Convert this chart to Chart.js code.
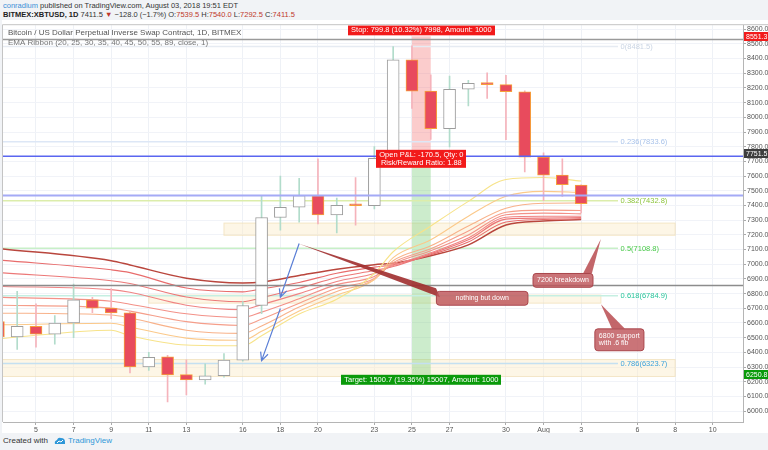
<!DOCTYPE html>
<html>
<head>
<meta charset="utf-8">
<script src="https://cdn.jsdelivr.net/npm/chart.js@4.4.0/dist/chart.umd.min.js"></script>
<style>
  html, body { margin: 0; padding: 0; }
  body { width: 768px; height: 450px; background: #f1f3f6; position: relative; overflow: hidden;
         font-family: "Liberation Sans", Arial, sans-serif; }
  #head { position: absolute; left: 3px; top: 1px; font-size: 7.5px; line-height: 9px; color: #333; white-space: nowrap; }
  #head .user { color: #3b8fd6; }
  #head b { color: #222; }
  #head .dn { color: #c0392b; }
  #wrap { position: absolute; left: 2px; top: 20px; width: 766px; height: 413px; background: #fff; }
  #foot { position: absolute; left: 3px; top: 436px; font-size: 8px; line-height: 10px; color: #333; white-space: nowrap; }
  #foot .tv { color: #2f97d8; }
  #foot svg { vertical-align: -2px; margin: 0 2px 0 6px; }
</style>
</head>
<body>
<div id="head">
  <div><span class="user">conradium</span> published on TradingView.com, August 03, 2018 19:51 EDT</div>
  <div><b>BITMEX:XBTUSD, 1D</b> 7411.5 <span class="dn">▼</span> −128.0 (−1.7%) O:<span class="dn">7539.5</span> H:<span class="dn">7540.0</span> L:<span class="dn">7292.5</span> C:<span class="dn">7411.5</span></div>
</div>
<div id="wrap"><canvas id="chart"></canvas></div>
<div id="foot">Created with<svg width="12" height="9" viewBox="0 0 12 9"><path d="M1 8 Q0 5 3 4 Q4 1 7 2 Q11 2 11 6 L11 8 Z" fill="#2f97d8"/><path d="M3 7 L5 5 L7 6 L9 4" stroke="#fff" stroke-width="1" fill="none"/></svg><span class="tv">TradingView</span></div>
<script>
// daily candles, day numbers counted from July (Aug 1 = 32)
const days   = [3, 4, 5, 6, 7, 8, 9, 10, 11, 12, 13, 14, 15, 16, 17, 18, 19, 20, 21, 22, 23, 24, 25, 26, 27, 28, 29, 30, 31, 32, 33, 34];
const openP  = [6610, 6505, 6578, 6524, 6600, 6757, 6701, 6669, 6301, 6369, 6248, 6212, 6241, 6347, 6719, 7318, 7388, 7467, 7336, 7401, 7398, 7720, 8391, 8178, 7922, 8191, 8232, 8222, 8174, 7729, 7606, 7539.5];
const highP  = [6680, 6815, 6730, 6650, 6865, 6775, 6835, 6680, 6400, 6380, 6350, 6322, 6391, 6745, 7467, 7600, 7585, 7718, 7451, 7590, 7800, 8481, 8487, 8290, 8281, 8252, 8302, 8286, 8180, 7758, 7718, 7540];
const lowP   = [6480, 6420, 6435, 6455, 6500, 6670, 6630, 6260, 6277, 6063, 6110, 6183, 6232, 6340, 6663, 7231, 7287, 7275, 7213, 7265, 7377, 7700, 8060, 7850, 7799, 8077, 8129, 7848, 7628, 7433, 7462, 7350];
const closeP = [6505, 6578, 6524, 6600, 6757, 6701, 6669, 6301, 6367, 6246, 6212, 6241, 6347, 6719, 7318, 7388, 7467, 7336, 7401, 7398, 7720, 8391, 8178, 7922, 8191, 8232, 8222, 8174, 7729, 7606, 7541, 7411.5];

const tickDays   = [5, 7, 9, 11, 13, 16, 18, 20, 23, 25, 27, 30, 32, 34, 37, 39, 41];
const tickLabels = ["5", "7", "9", "11", "13", "16", "18", "20", "23", "25", "27", "30", "Aug", "3", "6", "8", "10"];
const priceTicks = [6000, 6100, 6200, 6300, 6400, 6500, 6600, 6700, 6800, 6900, 7000, 7100, 7200, 7300, 7400, 7500, 7600, 7700, 7800, 7900, 8000, 8100, 8200, 8300, 8400, 8500, 8600];

// EMA ribbon
const emaDays = [3, 9, 10, 13, 16, 17, 19, 21, 23, 24, 26, 28, 30, 32, 34];
const ema20 = [6492, 6551, 6513, 6450, 6445, 6513, 6661, 6762, 6937, 7085, 7260, 7428, 7577, 7590, 7566];
const ema25 = [6587, 6598, 6573, 6497, 6482, 6543, 6681, 6789, 6896, 7045, 7166, 7327, 7462, 7496, 7489];
const ema30 = [6667, 6654, 6634, 6551, 6529, 6580, 6708, 6815, 6896, 7024, 7125, 7260, 7381, 7415, 7417];
const ema35 = [6721, 6701, 6681, 6609, 6583, 6627, 6735, 6836, 6903, 7011, 7105, 7226, 7354, 7368, 7366];
const ema40 = [6775, 6748, 6728, 6663, 6637, 6674, 6765, 6861, 6917, 7001, 7092, 7199, 7337, 7348, 7343];
const ema45 = [6849, 6827, 6809, 6721, 6691, 6725, 6800, 6883, 6937, 6991, 7078, 7179, 7320, 7327, 7327];
const ema50 = [6943, 6888, 6869, 6777, 6745, 6772, 6836, 6910, 6957, 6984, 7071, 7166, 7307, 7314, 7317];
const ema55 = [7029, 6962, 6943, 6838, 6812, 6832, 6876, 6939, 6980, 6997, 7065, 7152, 7287, 7304, 7310];
const ema89 = [7107, 7024, 6995, 6905, 6873, 6879, 6923, 6966, 6997, 7007, 7058, 7132, 7267, 7294, 7304];

const fibLevels = ["0", "0.236", "0.382", "0.5", "0.618", "0.786"];
const fibPrices = [8481.5, 7833.6, 7432.8, 7108.8, 6784.9, 6323.7];

const entryPrice = 7751.5;
const stopPrice = 8551.3;
const targetPrice = 6250.8;

const emaSeries = [ema20, ema25, ema30, ema35, ema40, ema45, ema50, ema55, ema89];
const emaColors = ["#f7e38a", "#fbc98a", "#f8b28a", "#f59e8a", "#f39188", "#f08484", "#ec7878", "#e86c6c", "#b9463d"];
const fibLine = ["#e6ebf2", "#dde7f6", "#dcedab", "#c8efc8", "#c6efe2", "#c4e0f1"];
const fibText = ["#c9d4e3", "#a9c3ea", "#8dc43c", "#48c948", "#27c49a", "#3ca2dc"];

const up = closeP.map((c, i) => c >= openP[i]);

const FONT = '"Liberation Sans", Arial, sans-serif';

function roundRect(ctx, x, y, w, h, r) {
  ctx.beginPath();
  ctx.moveTo(x + r, y);
  ctx.arcTo(x + w, y, x + w, y + h, r);
  ctx.arcTo(x + w, y + h, x, y + h, r);
  ctx.arcTo(x, y + h, x, y, r);
  ctx.arcTo(x, y, x + w, y, r);
  ctx.closePath();
}

function arrow(ctx, x1, y1, x2, y2) {
  const a = Math.atan2(y2 - y1, x2 - x1);
  ctx.beginPath();
  ctx.moveTo(x1, y1); ctx.lineTo(x2, y2);
  ctx.moveTo(x2 - 9 * Math.cos(a - 0.45), y2 - 9 * Math.sin(a - 0.45));
  ctx.lineTo(x2, y2);
  ctx.lineTo(x2 - 9 * Math.cos(a + 0.45), y2 - 9 * Math.sin(a + 0.45));
  ctx.stroke();
}

const drawings = {
  id: "drawings",
  beforeDatasetsDraw(chart) {
    const ctx = chart.ctx, a = chart.chartArea;
    const X = v => chart.scales.x.getPixelForValue(v);
    const Y = v => chart.scales.y.getPixelForValue(v);
    ctx.save();
    ctx.beginPath(); ctx.rect(a.left, a.top, a.right - a.left, a.bottom - a.top); ctx.clip();

    // support / resistance boxes
    [[15, 39, 7280, 7197], [11, 35.05, 6790, 6735], [2, 39, 6351, 6236]].forEach(z => {
      const x1 = X(z[0]), x2 = X(z[1]), y1 = Y(z[2]), y2 = Y(z[3]);
      ctx.fillStyle = "rgba(250,236,200,0.45)";
      ctx.fillRect(x1, y1, x2 - x1, y2 - y1);
      ctx.strokeStyle = "rgba(240,222,180,0.7)";
      ctx.lineWidth = 1;
      ctx.strokeRect(x1, y1, x2 - x1, y2 - y1);
    });

    // short position tool
    const px1 = X(25), px2 = X(26);
    ctx.fillStyle = "rgba(245,120,120,0.38)";
    ctx.fillRect(px1, Y(stopPrice), px2 - px1, Y(entryPrice) - Y(stopPrice));
    ctx.fillStyle = "rgba(110,200,110,0.35)";
    ctx.fillRect(px1, Y(entryPrice), px2 - px1, Y(targetPrice) - Y(entryPrice));

    // fib retracement
    ctx.font = "7.5px " + FONT;
    ctx.textBaseline = "middle";
    ctx.textAlign = "left";
    fibPrices.forEach((p, i) => {
      const y = Y(p);
      ctx.strokeStyle = fibLine[i];
      ctx.lineWidth = 1.5;
      ctx.beginPath(); ctx.moveTo(a.left, y); ctx.lineTo(X(35.96), y); ctx.stroke();
      ctx.fillStyle = fibText[i];
      ctx.fillText(fibLevels[i] + "(" + p.toFixed(1) + ")", X(36.1), y + 0.5);
    });
    ctx.restore();
  },
  afterDatasetsDraw(chart) {
    const ctx = chart.ctx, a = chart.chartArea;
    const X = v => chart.scales.x.getPixelForValue(v);
    const Y = v => chart.scales.y.getPixelForValue(v);
    ctx.save();
    ctx.beginPath(); ctx.rect(a.left, a.top, a.right - a.left, a.bottom - a.top); ctx.clip();

    // horizontal lines
    [[8530, "#9a9a9a", 1.5], [6855, "#8c8c8c", 1.5], [7735, "#5a66f0", 1.5], [7467, "#a4aaf6", 2]].forEach(h => {
      const y = Y(h[0]);
      ctx.strokeStyle = h[1]; ctx.lineWidth = h[2];
      ctx.beginPath(); ctx.moveTo(a.left, y); ctx.lineTo(a.right, y); ctx.stroke();
    });

    // blue arrows
    ctx.strokeStyle = "#5b7fd6"; ctx.lineWidth = 1.2;
    arrow(ctx, X(19.0), Y(7141), X(18.0), Y(6775));
    arrow(ctx, X(18.0), Y(6699), X(17.0), Y(6344));

    // callouts
    function callout(tip, b1, b2, box, lines, wedge, align) {
      ctx.fillStyle = wedge;
      ctx.beginPath();
      ctx.moveTo(X(tip[0]), Y(tip[1]));
      ctx.lineTo(X(b1[0]), Y(b1[1]));
      ctx.lineTo(X(b2[0]), Y(b2[1]));
      ctx.closePath(); ctx.fill();
      const x1 = X(box[0]), x2 = X(box[1]), y1 = Y(box[2]), y2 = Y(box[3]);
      roundRect(ctx, x1, y1, x2 - x1, y2 - y1, 3);
      ctx.fillStyle = "rgba(190,85,90,0.82)"; ctx.fill();
      ctx.strokeStyle = "#a9454b"; ctx.lineWidth = 1; ctx.stroke();
      ctx.fillStyle = "#fff";
      ctx.font = "7px " + FONT;
      ctx.textBaseline = "middle";
      ctx.textAlign = align;
      const n = lines.length;
      lines.forEach((t, i) => {
        const ty = (y1 + y2) / 2 + (i - (n - 1) / 2) * 7.5;
        ctx.fillText(t, align === "center" ? (x1 + x2) / 2 : x1 + 4, ty);
      });
    }
    callout([18.99, 7139], [26.28, 6836], [26.49, 6775], [26.3, 31.17, 6815, 6721], ["nothing but down"], "rgba(160,45,45,0.9)", "center");
    callout([35.05, 7172], [34.1, 6937], [34.57, 6937], [31.44, 34.63, 6937, 6843], ["7200 breakdown"], "rgba(185,75,80,0.85)", "center");
    callout([35.05, 6728], [35.64, 6560], [36.33, 6560], [34.73, 37.34, 6560, 6411], ["6800 support", "with .6 fib"], "rgba(185,75,80,0.85)", "left");

    // position tool labels
    const cx = X(25.5);
    ctx.font = "7.5px " + FONT;
    ctx.textAlign = "center"; ctx.textBaseline = "middle";
    function tag(lines, top, bg) {
      const w = Math.max(...lines.map(t => ctx.measureText(t).width)) + 6;
      const h = lines.length * 8 + 2;
      ctx.fillStyle = bg;
      ctx.fillRect(Math.round(cx - w / 2), top, Math.round(w), h);
      ctx.fillStyle = "#fff";
      lines.forEach((t, i) => ctx.fillText(t, cx, top + 5 + i * 8));
    }
    tag(["Stop: 799.8 (10.32%) 7998, Amount: 1000"], Y(stopPrice) - 11, "#f21a1a");
    tag(["Open P&L: -170.5, Qty: 0", "Risk/Reward Ratio: 1.88"], Y(entryPrice) - 4, "#f21a1a");
    tag(["Target: 1500.7 (19.36%) 15007, Amount: 1000"], Y(targetPrice) + 0.5, "#0a9a0a");

    // legend
    ctx.textAlign = "left";
    ctx.font = "8px " + FONT;
    ctx.fillStyle = "#555";
    ctx.fillText("Bitcoin / US Dollar Perpetual Inverse Swap Contract, 1D, BITMEX", a.left + 5, a.top + 8);
    ctx.fillStyle = "#777";
    ctx.fillText("EMA Ribbon (20, 25, 30, 35, 40, 45, 50, 55, 89, close, 1)", a.left + 5, a.top + 17.5);
    ctx.restore();

    // frame
    ctx.save();
    ctx.strokeStyle = "#c4c4c4"; ctx.lineWidth = 1;
    ctx.beginPath();
    ctx.moveTo(a.left - 0.5, a.bottom); ctx.lineTo(a.left - 0.5, a.top - 0.5); ctx.lineTo(chart.width, a.top - 0.5);
    ctx.stroke();

    // axis price tags
    ctx.font = "7px " + FONT;
    ctx.textAlign = "left"; ctx.textBaseline = "middle";
    [[stopPrice, "#f21a1a"], [entryPrice, "#3d3d3d"], [targetPrice, "#0a9a0a"]].forEach(t => {
      const y = Y(t[0]);
      ctx.fillStyle = t[1];
      ctx.fillRect(a.right + 1, Math.round(y - 4.5), 24, 9);
      ctx.fillStyle = "#fff";
      ctx.fillText(t[0].toFixed(1), a.right + 3, y + 0.5);
    });
    ctx.restore();
  }
};

const candles = days.map((d, i) => ({ x: d, y: [openP[i], closeP[i]] }));
const wicks = days.map((d, i) => ({ x: d, y: [lowP[i], highP[i]] }));

const emaSets = emaSeries.map((s, k) => ({
  type: "line",
  data: emaDays.map((d, i) => ({ x: d, y: s[i] })),
  borderColor: emaColors[k],
  borderWidth: k === 8 ? 1.5 : 1.1,
  pointRadius: 0,
  cubicInterpolationMode: "monotone",
  order: 3,
}));

new Chart(document.getElementById("chart").getContext("2d"), {
  type: "bar",
  data: {
    datasets: [
      ...emaSets,
      {
        data: wicks,
        backgroundColor: up.map(u => (u ? "#b2dccb" : "#f5b3bb")),
        borderWidth: 0,
        barThickness: 1,
        grouped: false,
        order: 2,
      },
      {
        data: candles,
        backgroundColor: up.map(u => (u ? "#ffffff" : "#e84b5d")),
        borderColor: up.map(u => (u ? "#9d9d9d" : "#f6a13a")),
        borderWidth: 1,
        borderSkipped: false,
        barThickness: 12,
        minBarLength: 2,
        grouped: false,
        order: 1,
      },
    ],
  },
  options: {
    responsive: true,
    maintainAspectRatio: false,
    animation: false,
    events: [],
    layout: { padding: { left: 1, top: 1, right: 0, bottom: 0 } },
    plugins: { legend: { display: false }, tooltip: { enabled: false } },
    scales: {
      x: {
        type: "linear",
        offset: false,
        min: 3.245,
        max: 42.61,
        afterBuildTicks: function (scale) {
          scale.ticks = tickDays.map(v => ({ value: v }));
        },
        afterFit: function (scale) {
          scale.height = 11;
        },
        ticks: {
          autoSkip: false,
          maxRotation: 0,
          padding: 1,
          color: "#555",
          font: { size: 7, family: FONT },
          callback: function (value) {
            return tickLabels[tickDays.indexOf(value)];
          },
        },
        grid: { offset: false, color: "#eef1f6", tickColor: "#aaa", tickLength: 3 },
        border: { color: "#b5b5b5" },
      },
      y: {
        position: "right",
        min: 5926,
        max: 8627,
        afterBuildTicks: function (scale) {
          scale.ticks = priceTicks.map(v => ({ value: v }));
        },
        afterFit: function (scale) {
          scale.width = 25;
        },
        ticks: {
          padding: 1,
          color: "#555",
          font: { size: 7, family: FONT },
          callback: function (value) {
            return value.toFixed(1);
          },
        },
        grid: { color: "#f1f3f8", tickColor: "#aaa", tickLength: 3 },
        border: { color: "#b5b5b5" },
      },
    },
  },
  plugins: [drawings],
});
</script>
</body>
</html>
